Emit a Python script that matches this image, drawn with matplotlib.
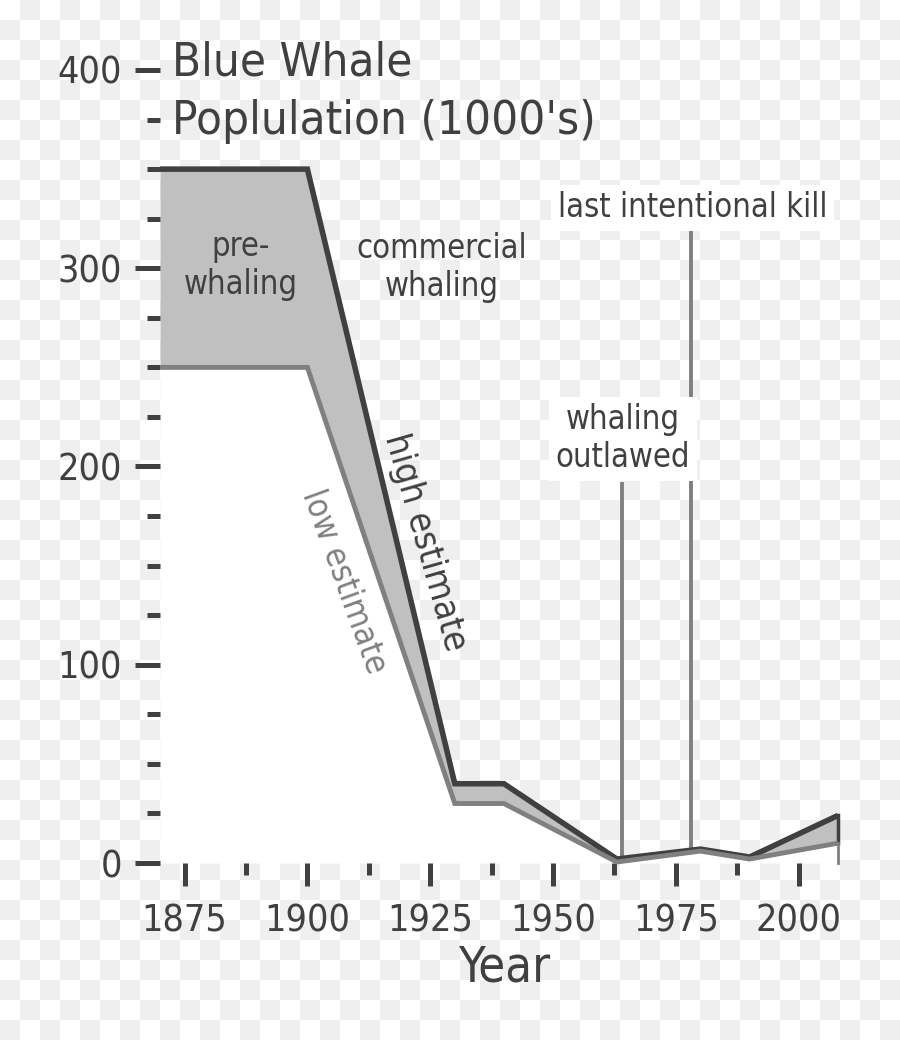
import numpy as np
import matplotlib
matplotlib.use("Agg")
import matplotlib.pyplot as plt
from matplotlib import font_manager as fm
from matplotlib.colors import ListedColormap
from matplotlib.ticker import MultipleLocator

# ---------------- data ----------------
years = [1870, 1900, 1930, 1940, 1963, 1980, 1990, 2008]
high_estimate = [350, 350, 40, 40, 2, 7, 3, 24]
low_estimate = [250, 250, 30, 30, 0.5, 6, 2, 10]

x_major_ticks = [1875, 1900, 1925, 1950, 1975, 2000]
y_major_ticks = [0, 100, 200, 300, 400]

events_years = [1964, 1978]
events_top = [192, 320]

title_lines = ["Blue Whale", "Poplulation (1000's)"]

# ---------------- fonts ----------------
names = {f.name for f in fm.fontManager.ttflist}
cond_entries = [f for f in fm.fontManager.ttflist
                if f.name.startswith("DejaVu Sans") and "ondensed" in str(f.stretch) + f.name
                and "Mono" not in f.name]
condensed = False
if "DejaVu Sans Condensed" in names:
    plt.rcParams['font.family'] = ['DejaVu Sans Condensed', 'DejaVu Sans']
    condensed = True
elif cond_entries:
    plt.rcParams['font.family'] = ['DejaVu Sans']
    plt.rcParams['font.stretch'] = 'condensed'
    condensed = True
else:
    plt.rcParams['font.family'] = ['DejaVu Sans']

if condensed:
    fs_title, fs_year, fs_tick, fs_ann, fs_high, fs_low = 34, 35, 27, 23.5, 26, 24
else:
    fs_title, fs_year, fs_tick, fs_ann, fs_high, fs_low = 31, 31, 25, 21.5, 24, 22

DARK = '#404040'
GRAY = '#808080'
FILL = '#c0c0c0'

W, H = 900, 1040
fig = plt.figure(figsize=(W / 100, H / 100), dpi=100)

# checkerboard backdrop (transparent-image look)
bg = fig.add_axes([0, 0, 1, 1], zorder=-10)
jj, ii = np.indices((H // 20, W // 20))
checker = (ii + jj) % 2
bg.imshow(checker, cmap=ListedColormap(['#ffffff', '#efefef']),
          interpolation='nearest', aspect='auto', extent=(0, W, H, 0))
bg.axis('off')

# main axes
left_px, right_px, top_px, bottom_px = 160, 838, 70, 863
ax = fig.add_axes([left_px / W, (H - bottom_px) / H,
                   (right_px - left_px) / W, (bottom_px - top_px) / H])
ax.patch.set_alpha(0)
for s in ax.spines.values():
    s.set_visible(False)

ax.set_xlim(years[0], years[-1])
ax.set_ylim(0, 400)

# fills
ax.fill_between(years, 0, low_estimate, color='white', lw=0, zorder=1)
ax.fill_between(years, low_estimate, high_estimate, color=FILL, lw=0, zorder=1)

# event lines
for yr, top in zip(events_years, events_top):
    base = np.interp(yr, years, low_estimate)
    ax.plot([yr, yr], [base, top], color=GRAY, lw=2.8, zorder=2,
            solid_capstyle='butt', clip_on=False)

# curves
ax.plot(years, high_estimate, color=DARK, lw=4.0, zorder=3,
        solid_joinstyle='miter', solid_capstyle='butt', clip_on=False)
ax.plot([years[-1], years[-1]], [low_estimate[-1], high_estimate[-1]],
        color=DARK, lw=2.5, zorder=3, clip_on=False)
ax.plot(years, low_estimate, color=GRAY, lw=3.5, zorder=4,
        solid_joinstyle='miter', solid_capstyle='butt', clip_on=False)
ax.plot([years[-1], years[-1]], [0, low_estimate[-1]],
        color=GRAY, lw=2.0, zorder=4, clip_on=False)

# ticks
ax.set_xticks(x_major_ticks)
ax.xaxis.set_minor_locator(MultipleLocator(12.5))
ax.set_yticks(y_major_ticks)
ax.yaxis.set_minor_locator(MultipleLocator(25))
ax.tick_params(axis='both', which='both', color=DARK, labelcolor=DARK,
               labelsize=fs_tick, width=3.6, direction='out')
ax.tick_params(axis='y', which='major', length=18, pad=9.4)
ax.tick_params(axis='y', which='minor', length=9.4)
ax.tick_params(axis='x', which='major', length=16.5, pad=12.5)
ax.tick_params(axis='x', which='minor', length=8.6)
for t in ax.xaxis.get_major_ticks() + ax.yaxis.get_major_ticks() \
        + ax.xaxis.get_minor_ticks() + ax.yaxis.get_minor_ticks():
    t.tick1line.set_clip_on(False)

# title & axis label
fig.text(172 / W, 1 - 76 / H, title_lines[0], fontsize=fs_title, color=DARK,
         ha='left', va='baseline')
fig.text(172 / W, 1 - 134 / H, title_lines[1], fontsize=fs_title, color=DARK,
         ha='left', va='baseline')
fig.text(504 / W, 1 - 982 / H, "Year", fontsize=fs_year, color=DARK,
         ha='center', va='baseline')

# annotations
ax.text(1886.4, 301.5, "pre-\nwhaling", fontsize=fs_ann, color=DARK,
        ha='center', va='center', multialignment='center', zorder=6)
ax.text(1927.3, 300.5, "commercial\nwhaling", fontsize=fs_ann, color=DARK,
        ha='center', va='center', multialignment='center', zorder=6)
ax.text(1964.2, 214, "whaling\noutlawed", fontsize=fs_ann, color=DARK,
        ha='center', va='center', multialignment='center', zorder=6,
        bbox=dict(boxstyle='square,pad=0.2', fc='white', ec='none'))
ax.text(1978.4, 330.5, "last intentional kill", fontsize=fs_ann, color=DARK,
        ha='center', va='center', zorder=6,
        bbox=dict(boxstyle='square,pad=0.2', fc='white', ec='none'))
ax.text(1924.0, 162, "high estimate", fontsize=fs_high, color=DARK,
        ha='center', va='center', rotation=-74, rotation_mode='anchor', zorder=6)
ax.text(1907.4, 142, "low estimate", fontsize=fs_low, color=GRAY,
        ha='center', va='center', rotation=-70, rotation_mode='anchor', zorder=6)

fig.savefig('out.png', dpi=100)
